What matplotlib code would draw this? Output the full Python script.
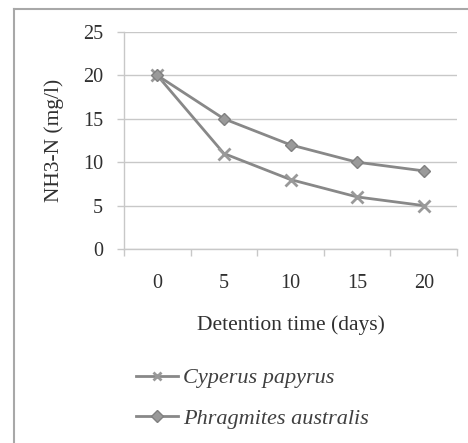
import matplotlib
matplotlib.use("Agg")
import matplotlib.pyplot as plt
from matplotlib.lines import Line2D

days = ["0", "5", "10", "15", "20"]
cyperus = [20, 11, 8, 6, 5]
phragmites = [20, 15, 12, 10, 9]
yticks = [0, 5, 10, 15, 20, 25]

plt.rcParams['font.family'] = ['Liberation Serif', 'DejaVu Serif']
txt = '#303030'
grid = '#c8c8c8'
linec = '#888888'

fig = plt.figure(figsize=(4.68, 4.43), dpi=100)
ax = fig.add_axes([124/468, 1-249/443, 333/468, 217/443])

x = list(range(len(days)))
ax.plot(x, cyperus, color=linec, lw=2, marker='x', ms=8, mew=2,
        mec='#999999', label='Cyperus papyrus')
ax.plot(x, phragmites, color=linec, lw=2, marker='D', ms=6.5, mew=1,
        mfc='#9a9a9a', mec='#808080', label='Phragmites australis')

ax.set_xlim(-0.5, len(days)-0.5)
ax.set_ylim(0, 25)
ax.set_yticks(yticks)
ax.set_yticklabels([str(v) for v in yticks])
ax.set_xticks(x)
ax.set_xticklabels(days)
ax.set_xticks([i-0.5 for i in range(len(days)+1)], minor=True)
ax.tick_params(axis='x', which='major', length=0, pad=18, labelsize=14.5, colors=txt)
ax.tick_params(axis='x', which='minor', length=5, width=1, color=grid)
ax.tick_params(axis='y', which='major', length=5, width=1, color=grid, pad=10,
               labelsize=14.5, labelcolor=txt)
ax.yaxis.grid(True, color=grid, lw=1)
ax.set_axisbelow(True)
for s in ['top', 'right']:
    ax.spines[s].set_visible(False)
for s in ['left', 'bottom']:
    ax.spines[s].set_color(grid)
    ax.spines[s].set_linewidth(1)

ax.set_xlabel('Detention time (days)', fontsize=15.5, color=txt, labelpad=16)
ax.set_ylabel('NH3-N (mg/l)', fontsize=15.5, color=txt, labelpad=14)

handles, labels = ax.get_legend_handles_labels()
leg = fig.legend(handles, labels, loc='center left',
                 bbox_to_anchor=(136/468, 1-398.5/443), frameon=False,
                 borderpad=0, borderaxespad=0, handlelength=1.9,
                 handletextpad=0.2, labelspacing=0.9,
                 prop={'style': 'italic', 'size': 16})
for t in leg.get_texts():
    t.set_color('#404040')
for h in leg.legend_handles:
    h.set_markersize(6)

fig.add_artist(Line2D([14/468, 14/468], [0, 1-9/443], color='#a8a8a8', lw=1.5,
                      transform=fig.transFigure))
fig.add_artist(Line2D([14/468, 1], [1-9/443, 1-9/443], color='#a8a8a8', lw=1.5,
                      transform=fig.transFigure))

fig.savefig('out.png', dpi=100)
